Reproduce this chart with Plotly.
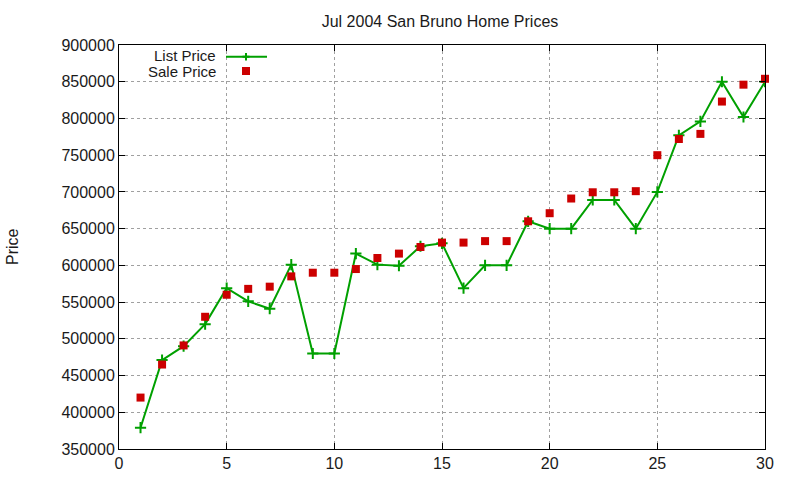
import plotly.graph_objects as go

days = list(range(1, 31))
list_price = [379000, 471000, 490000, 520000, 569000, 551000, 541000, 601000, 480000, 480000,
              616000, 601000, 599500, 626000, 630000, 569000, 600000, 600000, 660000, 650000,
              650000, 689000, 689000, 650000, 700000, 777000, 796000, 850000, 802000, 850000]
sale_price = [420000, 465000, 491000, 530000, 560000, 568000, 571000, 585000, 590000, 590000,
              595000, 610000, 616000, 625000, 631000, 631000, 633000, 633000, 660000, 671000,
              691000, 699500, 699500, 701000, 750000, 772000, 779000, 823000, 846000, 854000]
x_ticks = [0, 5, 10, 15, 20, 25, 30]
y_ticks = list(range(350000, 900001, 50000))

GREEN = "#00a000"
RED = "#cc0000"
TXT = "#1a1a1a"
FONT = "Liberation Sans, Arial, sans-serif"

L, R, T, B = 119, 35, 45, 31
PW, PH = 800 - L - R, 480 - T - B


def px(p):
    return (p - L) / PW


def py(p):
    return (480 - B - p) / PH


fig = go.Figure()
fig.add_trace(go.Scatter(
    x=days, y=list_price, mode="lines+markers", name="List Price",
    line=dict(color=GREEN, width=2),
    marker=dict(symbol="cross-thin", size=8, line=dict(color=GREEN, width=2), color=GREEN),
))
fig.add_trace(go.Scatter(
    x=days, y=sale_price, mode="markers", name="Sale Price",
    marker=dict(symbol="square", size=8, color=RED, line=dict(width=0)),
    cliponaxis=False,
))

axis_common = dict(
    showline=True, linecolor="black", linewidth=1, mirror="ticks",
    ticks="inside", ticklen=6, tickcolor="black", tickwidth=1,
    showgrid=True, gridcolor="#a0a0a0", griddash="dot", gridwidth=1,
    zeroline=False, tickfont=dict(family=FONT, size=16, color=TXT),
)
fig.update_xaxes(range=[0, 30], tickvals=x_ticks, **axis_common)
fig.update_yaxes(range=[350000, 900000], tickvals=y_ticks, tickformat="d", **axis_common)

shapes = [
    dict(type="line", xref="paper", yref="paper", x0=px(226), x1=px(267), y0=py(56.7), y1=py(56.7),
         line=dict(color=GREEN, width=2)),
    dict(type="line", xref="paper", yref="paper", x0=px(242.5), x1=px(249.5), y0=py(56.7), y1=py(56.7),
         line=dict(color=GREEN, width=2)),
    dict(type="line", xref="paper", yref="paper", x0=px(246), x1=px(246), y0=py(53), y1=py(60.5),
         line=dict(color=GREEN, width=2)),
    dict(type="rect", xref="paper", yref="paper", x0=px(242), x1=px(250), y0=py(67), y1=py(75),
         fillcolor=RED, line=dict(width=0)),
]
annotations = [
    dict(text="List Price", xref="paper", yref="paper", x=px(218), y=py(55.5), xanchor="right",
         yanchor="middle", showarrow=False, font=dict(family=FONT, size=15, color=TXT)),
    dict(text="Sale Price", xref="paper", yref="paper", x=px(218), y=py(71.5), xanchor="right",
         yanchor="middle", showarrow=False, font=dict(family=FONT, size=15, color=TXT)),
    dict(text="Price", xref="paper", yref="paper", x=px(12), y=py(247), xanchor="center",
         yanchor="middle", textangle=-90, showarrow=False,
         font=dict(family=FONT, size=16, color=TXT)),
]

fig.update_layout(
    width=800, height=480,
    margin=dict(l=L, r=R, t=T, b=B, autoexpand=False),
    paper_bgcolor="white", plot_bgcolor="white",
    showlegend=False,
    title=dict(text="Jul 2004 San Bruno Home Prices", x=440 / 800, xanchor="center",
               y=1 - 21 / 480, yanchor="middle", font=dict(family=FONT, size=16, color=TXT)),
    shapes=shapes, annotations=annotations,
)

fig.write_html("out.html", config={"displayModeBar": False},
               post_script="document.body.style.margin='0px';document.body.style.overflow='hidden';")
